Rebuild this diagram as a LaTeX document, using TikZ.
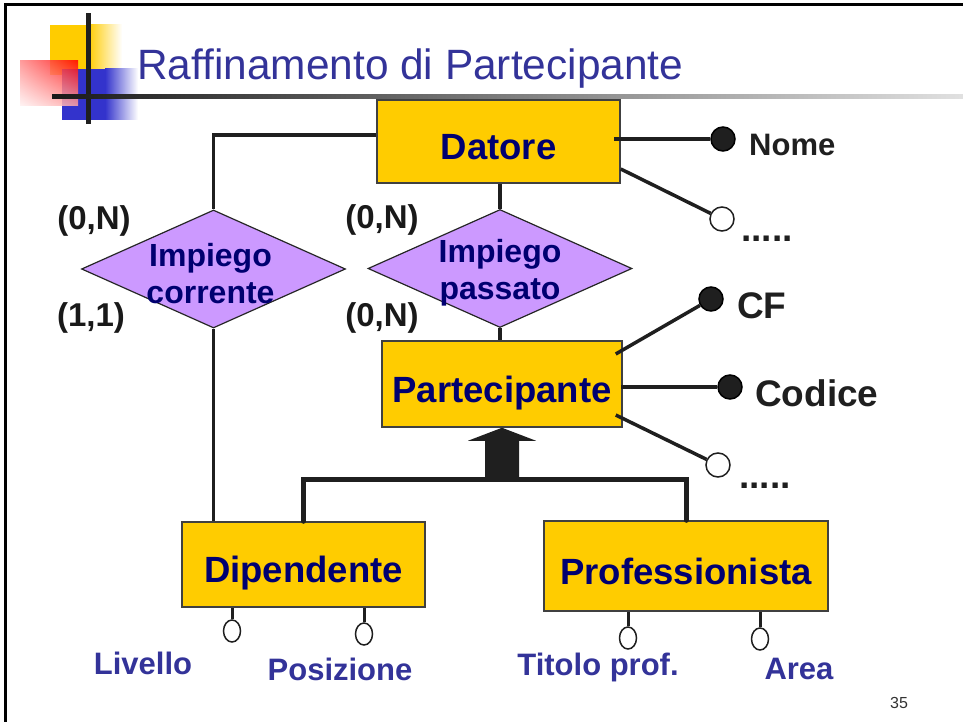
\documentclass[tikz,border=0pt]{standalone}
\usepackage{fontspec}
\setmainfont{Liberation Sans}
\usepackage{tikz}
\usetikzlibrary{shapes.geometric,shadings}
\definecolor{entfill}{HTML}{FFCC00}
\definecolor{relfill}{HTML}{CC99FF}
\definecolor{navytext}{HTML}{000070}
\definecolor{slideblue}{HTML}{333399}
\definecolor{logoblue}{HTML}{3333CC}
\newcommand{\sz}[2]{\fontsize{#1}{#2}\selectfont}

\begin{document}
\begin{tikzpicture}[x=1pt,y=-1pt,
    entity/.style={draw=black!75, line width=1.5, fill=entfill, inner sep=0,
      font=\sz{36.5}{40}\bfseries, text=navytext, text height=36, text depth=0},
    relation/.style={diamond, draw=black!85, line width=1.2, fill=relfill, inner sep=0,
      minimum width=264, minimum height=118},
    reltext/.style={font=\sz{32}{37}\bfseries, text=navytext, align=center, inner sep=0},
    conn/.style={draw=black!88, line width=3.5},
    isaline/.style={draw=black!88, line width=5, line cap=round},
    keyattr/.style={circle, draw=black, fill=black!88, line width=1.5, minimum size=24, inner sep=0},
    optattr/.style={circle, draw=black!88, fill=white, line width=1.5, minimum size=24, inner sep=0},
    subattr/.style={ellipse, draw=black!88, fill=white, line width=1.5, minimum width=17, minimum height=22, inner sep=0},
    attrname/.style={font=\sz{37}{40}\bfseries, text=black!88, anchor=base west, inner sep=0},
    subname/.style={font=\sz{31}{34}\bfseries, text=slideblue, inner sep=0},
    card/.style={font=\sz{33}{36}\bfseries, text=black!90, inner sep=0}]
    \useasboundingbox (0,0) rectangle (963,722);
    % slide frame and logo
    \draw[line width=3] (5,722) -- (5,5) -- (963,5);
    \fill[entfill] (50,25) rectangle (88,75);
    \shade[left color=entfill, right color=white] (88,25) rectangle (122,75);
    \fill[logoblue] (62,69) rectangle (105,120);
    \shade[left color=logoblue, right color=white] (105,69) rectangle (138,120);
    \shade[upper right=red, upper left=red!45, lower right=red!35, lower left=red!5, opacity=0.85] (20,61) rectangle (78,106);
    \fill[black!88] (86,13) rectangle (91,124);
    \shade[left color=black!90, right color=black!12] (52,95) rectangle (963,99);
    \node[anchor=base west, font=\sz{42.4}{46}, text=slideblue, inner sep=0] (title) at (137,80) {Raffinamento di Partecipante};

    % entities
    \node[entity, minimum width=243, minimum height=83] (datore) at (498.5,141.5) {Datore};
    \node[entity, minimum width=240, minimum height=86] (partecipante) at (502,384) {Partecipante};
    \node[entity, minimum width=243, minimum height=85] (dipendente) at (303.5,564.5) {Dipendente};
    \node[entity, minimum width=284, minimum height=90] (professionista) at (686,566) {Professionista};

    % relationships
    \node[relation] (impcorr) at (213.5,269) {};
    \node[reltext] (impcorrtxt) at ([xshift=-3pt,yshift=-5pt]impcorr.center) {Impiego\\corrente};
    \node[relation] (imppass) at (500,268.5) {};
    \node[reltext] (imppasstxt) at ([yshift=-4pt]imppass.center) {Impiego\\passato};

    \draw[conn] ([yshift=6.5pt]datore.west) -| (impcorr.north);
    \draw[conn] (impcorr.south) -- (impcorr.south |- dipendente.north);
    \draw[conn] (imppass.north) -- (imppass.north |- datore.south);
    \draw[conn] (imppass.south) -- (imppass.south |- partecipante.north);

    \node[card] (c1) at (94,221) {(0,N)};
    \node[card] (c2) at (91,318) {(1,1)};
    \node[card] (c3) at (382,220) {(0,N)};
    \node[card] (c4) at (382,318) {(0,N)};

    % attributes of Datore
    \node[keyattr] (nome) at (723,139) {};
    \draw[conn] (nome) -- ([xshift=-7pt]datore.east |- nome);
    \node[attrname, font=\sz{31}{34}\bfseries] (nomelbl) at (749,156) {Nome};
    \node[optattr] (datopt) at (722,219) {};
    \draw[conn] ([yshift=-27.5pt]datore.east) -- (datopt);
    \node[attrname] (datdots) at (741,241) {.....};

    % attributes of Partecipante
    \node[keyattr] (cf) at (711,299) {};
    \draw[conn] ([xshift=-7pt,yshift=30pt]partecipante.east) -- (cf);
    \node[attrname] (cflbl) at (737,318) {CF};
    \node[keyattr] (codice) at (730,387) {};
    \draw[conn] (codice) -- ([xshift=-2pt]partecipante.east |- codice);
    \node[attrname] (codicelbl) at (755,406) {Codice};
    \node[optattr] (partopt) at (718,465) {};
    \draw[conn] ([xshift=-7pt,yshift=-31pt]partecipante.east) -- (partopt);
    \node[attrname] (partdots) at (739,488) {.....};

    % generalization
    \coordinate (isa) at (partecipante.south |- 0,479);
    \draw[isaline] (dipendente.north) |- (isa) -| (professionista.north);
    \fill[black!88] (partecipante.south) -- ++(34,13) -- ++(-17,0) -- ++(0,39) -- ++(-34,0) -- ++(0,-39) -- ++(-17,0) -- cycle;

    % attributes of the children
    \node[subattr] (livello) at (232,631) {};
    \draw[conn, line width=3] (livello) -- (livello |- dipendente.south);
    \node[subattr] (posizione) at (364,634) {};
    \draw[conn, line width=3] (posizione) -- (posizione |- dipendente.south);
    \node[subattr] (titolo) at (628,638) {};
    \draw[conn, line width=3] (titolo) -- (titolo |- professionista.south);
    \node[subattr] (area) at (760,639) {};
    \draw[conn, line width=3] (area) -- (area |- professionista.south);
    \node[subname] (livellolbl) at (143,663) {Livello};
    \node[subname] (posizionelbl) at (340,669) {Posizione};
    \node[subname] (titololbl) at (598,667) {Titolo prof.};
    \node[subname] (arealbl) at (799,669) {Area};

    \node[font=\sz{16}{18}, text=black!80] (pgnum) at (899,703) {35};
\end{tikzpicture}
\end{document}
